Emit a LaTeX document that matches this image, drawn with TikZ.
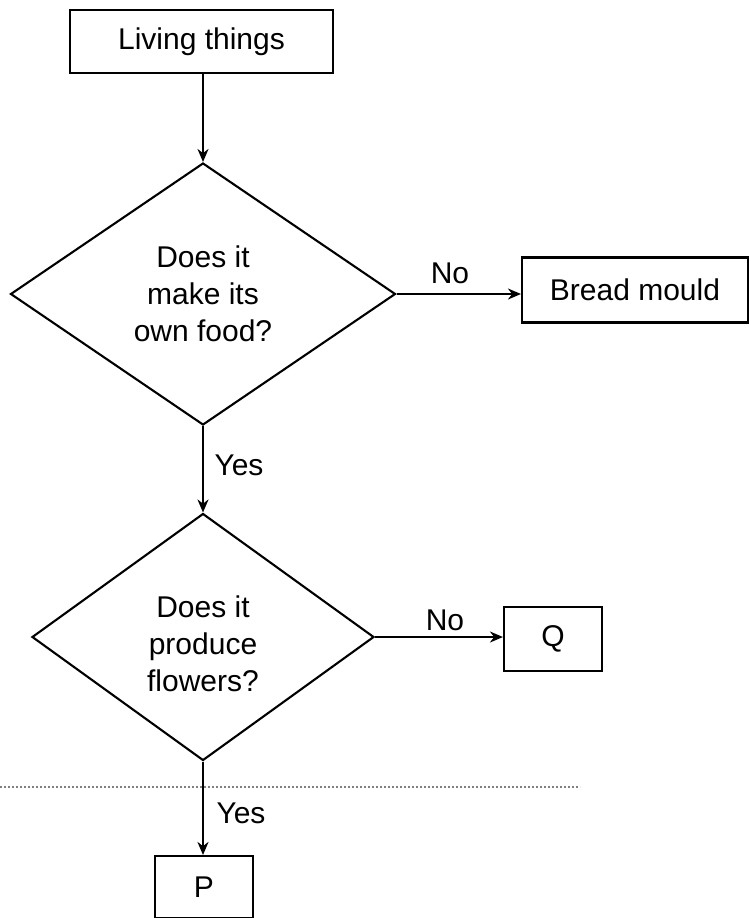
\documentclass[tikz,border=0pt]{standalone}
\usepackage{fontspec}
\setmainfont{Liberation Sans}
\usetikzlibrary{shapes.geometric,arrows.meta}
\begin{document}
\begin{tikzpicture}[x=1pt,y=-1pt,
  txt/.style={font=\fontsize{30}{37}\selectfont},
  box/.style={draw, line width=2.1pt, inner sep=0pt, txt},
  dia/.style={draw, diamond, line width=2.1pt, inner sep=0pt, align=center, txt},
  arr/.style={line width=2.1pt, -{Stealth[length=13pt,width=11pt]}},
  lab/.style={txt, inner sep=0pt}]
\useasboundingbox (0,0) rectangle (749,918);
\node[box, minimum width=263pt, minimum height=63pt] (lt) at (201.5,41.5) {Living things};
\node[dia, minimum width=385pt, minimum height=262pt] (d1) at (203,294) {Does it\\make its\\own food?};
\node[box, minimum width=226pt, minimum height=65pt] (bm) at (635,290) {Bread mould};
\node[dia, minimum width=342pt, minimum height=247pt,
  label={[txt, align=center, inner sep=0pt, yshift=-7pt]center:Does it\\produce\\flowers?}] (d2) at (203,637) {};
\node[box, minimum width=98pt, minimum height=64pt] (q) at (553,639) {Q};
\node[box, minimum width=98pt, minimum height=62pt] (p) at (204,887) {P};
\draw[arr] (lt.south -| d1.north) -- (d1.north);
\draw[arr] (d1.east) -- (d1.east -| bm.west);
\draw[arr] (d1.south) -- (d2.north);
\draw[arr] (d2.east) -- (d2.east -| q.west);
\draw[arr] (d2.south) -- (d2.south |- p.north);
\node[lab] (no1) at (450,273) {No};
\node[lab] (yes1) at (239,465) {Yes};
\node[lab] (no2) at (445,620) {No};
\node[lab] (yes2) at (241,813) {Yes};
\coordinate (dl1) at (0,787);
\coordinate (dl2) at (580,787);
\draw[gray, line width=1.2pt, dash pattern=on 2pt off 2pt] (dl1) -- (dl2);
\end{tikzpicture}
\end{document}
